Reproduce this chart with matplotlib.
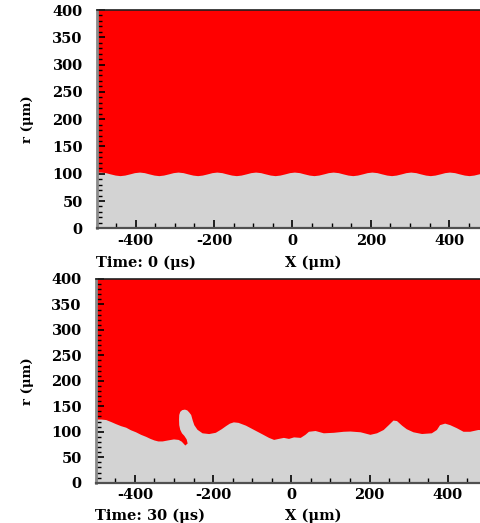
import matplotlib
matplotlib.use("Agg")
import matplotlib.pyplot as plt
from matplotlib.ticker import MultipleLocator

plt.rcParams["axes.unicode_minus"] = False

# ---------------- data ----------------
# Panel 1 (t = 0 us): initial wavy interface, r (um) vs X (um)
TOP_X = [-500, -489, -477, -465, -452,
         -440, -428, -415, -403, -390, -378, -366, -353,
         -341, -329, -316, -304, -292, -279, -267, -254,
         -242, -230, -217, -205, -193, -180, -168, -155,
         -143, -131, -118, -106, -94, -81, -69, -56,
         -44, -32, -19, -7, 5, 18, 30, 43,
         55, 67, 80, 92, 104, 117, 129, 142,
         154, 166, 179, 191, 203, 216, 228, 241,
         253, 265, 278, 290, 302, 315, 327, 340,
         352, 364, 377, 389, 401, 414, 426, 439,
         451, 463, 476, 488, 500]
TOP_R = [102.7, 103, 102, 99.75, 97.5,
         96.5, 97.5, 99.75, 102, 103, 102, 99.75, 97.5,
         96.5, 97.5, 99.75, 102, 103, 102, 99.75, 97.5,
         96.5, 97.5, 99.75, 102, 103, 102, 99.75, 97.5,
         96.5, 97.5, 99.75, 102, 103, 102, 99.75, 97.5,
         96.5, 97.5, 99.75, 102, 103, 102, 99.75, 97.5,
         96.5, 97.5, 99.75, 102, 103, 102, 99.75, 97.5,
         96.5, 97.5, 99.75, 102, 103, 102, 99.75, 97.5,
         96.5, 97.5, 99.75, 102, 103, 102, 99.75, 97.5,
         96.5, 97.5, 99.75, 102, 103, 102, 99.75, 97.5,
         96.5, 97.5, 99.75, 102, 103]

# Panel 2 (t = 30 us): deformed interface (boundary of the lower phase, incl. overhang)
BOT_X = [-500, -485, -473, -460, -448, -435, -422, -410, -397, -384, -371, -360,
         -350, -340, -329, -315, -300, -288, -280, -271, -265, -267.5, -273.5,
         -279.5, -284, -286.5, -287, -286.5, -284, -279, -272, -266, -261, -256,
         -252, -248, -240, -227, -210, -193, -178, -167, -157, -147, -135, -116,
         -95, -74, -57, -44, -32, -19, -6, 7, 24, 36, 45, 62, 83, 109, 134, 151,
         177, 202, 219, 236, 249, 261, 270, 283, 295, 312, 334, 359, 372, 380,
         393, 406, 423, 440, 457, 478, 500]
BOT_R = [124, 124, 123, 119, 115, 111, 108, 103, 99, 94, 90, 86,
         83, 81, 81, 83, 85, 84, 80.5, 73, 77, 85, 92,
         97, 104, 113, 124, 133, 139, 142.5, 143.5, 142, 138, 133,
         122, 113, 104, 97, 95.5, 98, 105, 111, 116, 118.5, 117.5, 112,
         103.5, 95, 88, 84, 86, 88, 86, 89, 88, 94, 100, 101.5, 97, 98, 100, 100.5,
         99, 94, 97, 103.5, 113, 122, 121, 112, 105, 99, 95.6, 97, 103.5, 113,
         116, 113, 107, 100, 100, 103.5, 103]

X_TICKS = [-400, -200, 0, 200, 400]
Y_TICKS = [0, 50, 100, 150, 200, 250, 300, 350, 400]
TIME_LABELS = ["Time: 0 (\u03bcs)", "Time: 30 (\u03bcs)"]

RED = "#FF0000"
GRAY = "#D3D3D3"
FONT = dict(family="DejaVu Serif", weight="bold", size=10.5)
RFONT = dict(family="DejaVu Serif", weight="bold", size=9.5)

W, H = 481, 523
fig = plt.figure(figsize=(W / 100, H / 100), dpi=100)


def px_axes(left, top, right, bottom):
    return fig.add_axes([left / W, 1 - bottom / H, (right - left) / W, (bottom - top) / H])


def style(ax):
    ax.set_facecolor(RED)
    ax.set_xlim(-500, 500)
    ax.set_ylim(0, 400)
    ax.set_xticks(X_TICKS)
    ax.set_yticks(Y_TICKS)
    ax.xaxis.set_minor_locator(MultipleLocator(50))
    ax.yaxis.set_minor_locator(MultipleLocator(10))
    ax.tick_params(which="both", direction="in", color="black", top=False, right=False)
    ax.tick_params(which="major", length=6, width=1.2)
    ax.tick_params(which="minor", length=3.5, width=1.0)
    ax.tick_params(axis="y", pad=10)
    ax.tick_params(axis="x", pad=4)
    for lab in ax.get_xticklabels() + ax.get_yticklabels():
        lab.set_fontfamily(FONT["family"])
        lab.set_fontweight(FONT["weight"])
        lab.set_fontsize(FONT["size"])
    ax.spines["left"].set_color("#8a8a8a")
    ax.spines["left"].set_linewidth(2.0)
    ax.spines["bottom"].set_color("#505050")
    ax.spines["bottom"].set_linewidth(1.6)
    ax.spines["top"].set_color("#202020")
    ax.spines["top"].set_linewidth(1.2)
    ax.spines["right"].set_visible(False)


# top panel
ax1 = px_axes(96.5, 10, 488.3, 228.3)
style(ax1)
ax1.fill_between(TOP_X, 0, TOP_R, color=GRAY, linewidth=0)

# bottom panel
ax2 = px_axes(95.7, 279, 487.0, 482.7)
style(ax2)
ax2.fill(BOT_X + [500, -500], BOT_R + [0, 0], color=GRAY, linewidth=0)

# labels
for yc_axis, ytime in [(119, 263), (381, 515.5)]:
    fig.text(27 / W, 1 - yc_axis / H, "r (\u03bcm)", rotation=90, ha="center", va="center", **RFONT)
    fig.text(313 / W, 1 - ytime / H, "X (\u03bcm)", ha="center", va="center", **FONT)
fig.text(96 / W, 1 - 263 / H, TIME_LABELS[0], ha="left", va="center", **FONT)
fig.text(95 / W, 1 - 515.5 / H, TIME_LABELS[1], ha="left", va="center", **FONT)

fig.savefig("out.png", dpi=100, facecolor="white")
